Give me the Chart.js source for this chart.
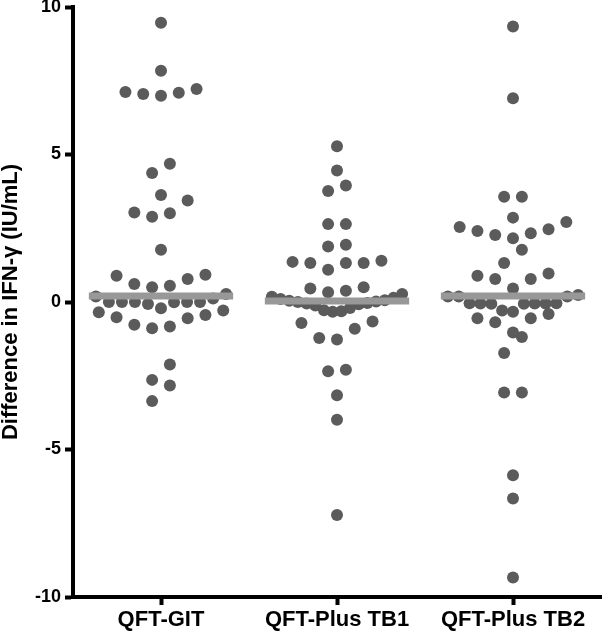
<!DOCTYPE html>
<html>
<head>
<meta charset="utf-8">
<script src="https://cdn.jsdelivr.net/npm/chart.js@4.4.0/dist/chart.umd.min.js"></script>
<style>
  html, body { margin: 0; padding: 0; background: #fff; }
</style>
</head>
<body>
<canvas id="ifnChart" width="607" height="632"></canvas>
<script>
var categories = ['QFT-GIT', 'QFT-Plus TB1', 'QFT-Plus TB2'];

// difference in IFN-gamma (IU/mL), one value per subject
var gitValues = [9.47, 7.84, 7.12, 7.05, 6.99, 7.09, 7.22, 4.69, 4.37, 3.63, 3.44,
    3.03, 2.89, 3.01, 1.77, 0.89, 0.61, 0.50, 0.55, 0.78, 0.92, 0.19, -0.01, 0, 0,
    -0.07, -0.21, 0, 0, 0, 0.12, 0.27, -0.35, -0.52, -0.77, -0.89, -0.83, -0.55,
    -0.44, -0.29, -2.12, -2.83, -2.64, -3.36];
var tb1Values = [5.28, 4.46, 3.76, 3.95, 2.64, 2.64, 1.88, 1.94, 1.40, 1.32, 1.32,
    1.09, 1.32, 1.36, 0.46, 0.33, 0.38, 0.50, -0.33, -0.31, -0.28, -0.20, -0.12,
    -0.08, -0.05, -0.03, 0.0, 0.02, 0.04, 0.06, 0.10, 0.14, 0.18, 0.27, -0.66,
    -0.91, -1.27, -1.22, -0.71, -2.30, -2.35, -3.16, -3.99, -7.22];
var tb2Values = [9.34, 6.91, 3.57, 3.57, 2.86, 2.54, 2.33, 2.41, 2.16, 2.47, 2.27,
    2.71, 1.77, 1.32, 0.78, 0.89, 0.97, 0.78, 0.46, 0.19, 0.19, 0.24, 0.19, -0.05,
    -0.04, -0.06, -0.05, -0.05, -0.04, -0.06, -0.29, -0.33, -0.41, -0.55, -0.69,
    -0.55, -1.03, -1.19, -1.73, -3.07, -3.07, -5.87, -6.66, -9.34];
var medians = [0.2, 0.03, 0.2];
var yTicks = [-10, -5, 0, 5, 10];

var dotColor = '#5b5b5b';
var medianColor = '#989898';

// Prism-style column scatter: values close together share a row and are
// spread out from the centre, left side first, in ascending order
function swarm(values, center) {
    var sorted = values.slice().sort(function(a, b) { return a - b; });
    var rows = [], row = null;
    sorted.forEach(function(v) {
        if (!row || v - row[0] > 0.64) { row = []; rows.push(row); }
        row.push(v);
    });
    var pts = [];
    rows.forEach(function(r) {
        var n = r.length;
        var step = n > 1 ? Math.min(0.101, 0.74 / (n - 1)) : 0;
        r.forEach(function(v, i) {
            var slot;
            if (n % 2) {
                slot = i === 0 ? 0 : (i % 2 ? -1 : 1) * Math.ceil(i / 2);
            } else {
                slot = (i % 2 ? 1 : -1) * (Math.floor(i / 2) + 0.5);
            }
            pts.push({ x: center + slot * step, y: v });
        });
    });
    return pts;
}

var datasets = [gitValues, tb1Values, tb2Values].map(function(vals, i) {
    return {
        type: 'scatter',
        data: swarm(vals, i + 1),
        backgroundColor: dotColor,
        borderWidth: 0,
        pointRadius: 6,
        pointHoverRadius: 6,
        order: 1
    };
});
medians.forEach(function(m, i) {
    datasets.push({
        type: 'line',
        data: [{ x: i + 1 - 0.41, y: m }, { x: i + 1 + 0.41, y: m }],
        borderColor: medianColor,
        borderWidth: 7,
        borderCapStyle: 'butt',
        pointRadius: 0,
        order: 0
    });
});

var axisFont = { family: 'Liberation Sans, Arial, sans-serif', weight: 'bold' };

var ctx = document.getElementById('ifnChart');
var chart = new Chart(ctx, {
    type: 'scatter',
    data: { datasets: datasets },
    options: {
        responsive: false,
        animation: false,
        devicePixelRatio: 1,
        layout: { padding: 0 },
        plugins: { legend: { display: false }, tooltip: { enabled: false } },
        scales: {
            x: {
                type: 'linear',
                min: 0.5,
                max: 3.5,
                afterBuildTicks: function(scale) {
                    scale.ticks = categories.map(function(c, i) { return { value: i + 1 }; });
                },
                afterFit: function(scale) {
                    scale.height = 35;
                    scale.paddingLeft = 0;
                    scale.paddingRight = 0;
                },
                ticks: {
                    autoSkip: false,
                    maxRotation: 0,
                    padding: 2,
                    color: '#000',
                    font: Object.assign({ size: 22 }, axisFont),
                    callback: function(value) { return categories[value - 1]; }
                },
                grid: { drawOnChartArea: false, drawTicks: true, tickLength: 8, tickWidth: 4, color: '#000' },
                border: { display: true, color: '#000', width: 4 }
            },
            y: {
                min: -10,
                max: 10,
                afterBuildTicks: function(scale) {
                    scale.ticks = yTicks.map(function(v) { return { value: v }; });
                },
                afterFit: function(scale) {
                    scale.width = 73;
                    scale.paddingTop = 7;
                    scale.paddingBottom = 0;
                },
                ticks: {
                    padding: 4,
                    color: '#000',
                    font: Object.assign({ size: 18 }, axisFont)
                },
                grid: { drawOnChartArea: false, drawTicks: true, tickLength: 8, tickWidth: 4, color: '#000' },
                border: { display: true, color: '#000', width: 4 },
                title: {
                    display: true,
                    text: 'Difference in IFN-\u03b3 (IU/mL)',
                    color: '#000',
                    padding: 0,
                    font: Object.assign({ size: 22, lineHeight: 1 }, axisFont)
                }
            }
        }
    }
});
</script>
</body>
</html>
